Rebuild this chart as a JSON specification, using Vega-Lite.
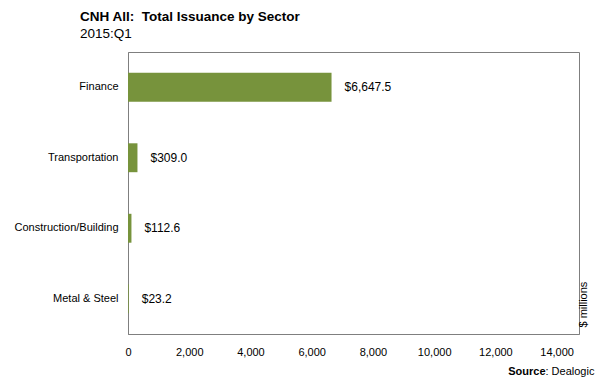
{
  "$schema": "https://vega.github.io/schema/vega-lite/v6.json",
  "width": 451,
  "height": 282,
  "autosize": {"type": "none"},
  "padding": {"left": 128, "top": 52, "right": 16, "bottom": 51},
  "config": {
    "font": "Liberation Sans",
    "view": {"stroke": "#7f7f7f", "strokeWidth": 1}
  },
  "title": {
    "text": "CNH All:\u00a0 Total Issuance by Sector",
    "subtitle": "2015:Q1",
    "anchor": "start",
    "frame": "group",
    "dx": -48,
    "offset": 12,
    "fontSize": 13.5,
    "fontWeight": "bold",
    "subtitleFontSize": 13.5,
    "color": "#000000",
    "subtitleColor": "#000000",
    "subtitlePadding": 3
  },
  "data": {
    "values": [
      {"sector": "Finance", "value": 6647.5},
      {"sector": "Transportation", "value": 309.0},
      {"sector": "Construction/Building", "value": 112.6},
      {"sector": "Metal & Steel", "value": 23.2}
    ]
  },
  "layer": [
    {
      "mark": {"type": "bar", "color": "#77933C"},
      "encoding": {
        "y": {
          "field": "sector",
          "type": "nominal",
          "sort": ["Finance", "Transportation", "Construction/Building", "Metal & Steel"],
          "scale": {"paddingInner": 0.59, "paddingOuter": 0.295},
          "axis": {
            "title": null,
            "ticks": false,
            "domainColor": "#7f7f7f",
            "labelFontSize": 11,
            "labelColor": "#000000",
            "labelPadding": 10,
            "labelLimit": 200
          }
        },
        "x": {
          "field": "value",
          "type": "quantitative",
          "scale": {"domain": [0, 14730], "nice": false},
          "axis": {
            "orient": "bottom",
            "values": [0, 2000, 4000, 6000, 8000, 10000, 12000, 14000],
            "format": ",.0f",
            "grid": false,
            "ticks": false,
            "domainColor": "#7f7f7f",
            "labelFontSize": 11,
            "labelColor": "#000000",
            "labelPadding": 12,
            "labelFlush": false,
            "title": "Source",
            "titleFontSize": 11,
            "titleFontWeight": "bold",
            "titleColor": "#000000",
            "titleAlign": "right",
            "titleBaseline": "middle",
            "titleX": 417,
            "titleY": 37
          }
        }
      }
    },
    {
      "mark": {"type": "text", "align": "left", "baseline": "middle", "dx": 13, "fontSize": 12, "color": "#000000"},
      "encoding": {
        "y": {
          "field": "sector",
          "type": "nominal",
          "sort": ["Finance", "Transportation", "Construction/Building", "Metal & Steel"],
          "axis": {
            "orient": "right",
            "labels": false,
            "ticks": false,
            "domain": false,
            "title": "$ millions",
            "titleAngle": 270,
            "titleX": 4,
            "titleY": 275,
            "titleAlign": "left",
            "titleBaseline": "middle",
            "titleFontSize": 11,
            "titleFontWeight": "normal",
            "titleColor": "#000000"
          }
        },
        "x": {
          "field": "value",
          "type": "quantitative",
          "axis": {
            "orient": "bottom",
            "labels": false,
            "ticks": false,
            "domain": false,
            "grid": false,
            "title": ": Dealogic",
            "titleFontSize": 11,
            "titleFontWeight": "normal",
            "titleColor": "#000000",
            "titleAlign": "left",
            "titleBaseline": "middle",
            "titleX": 417,
            "titleY": 37
          }
        },
        "text": {"field": "value", "type": "quantitative", "format": "$,.1f"}
      }
    }
  ],
  "resolve": {"axis": {"x": "independent", "y": "independent"}}
}
